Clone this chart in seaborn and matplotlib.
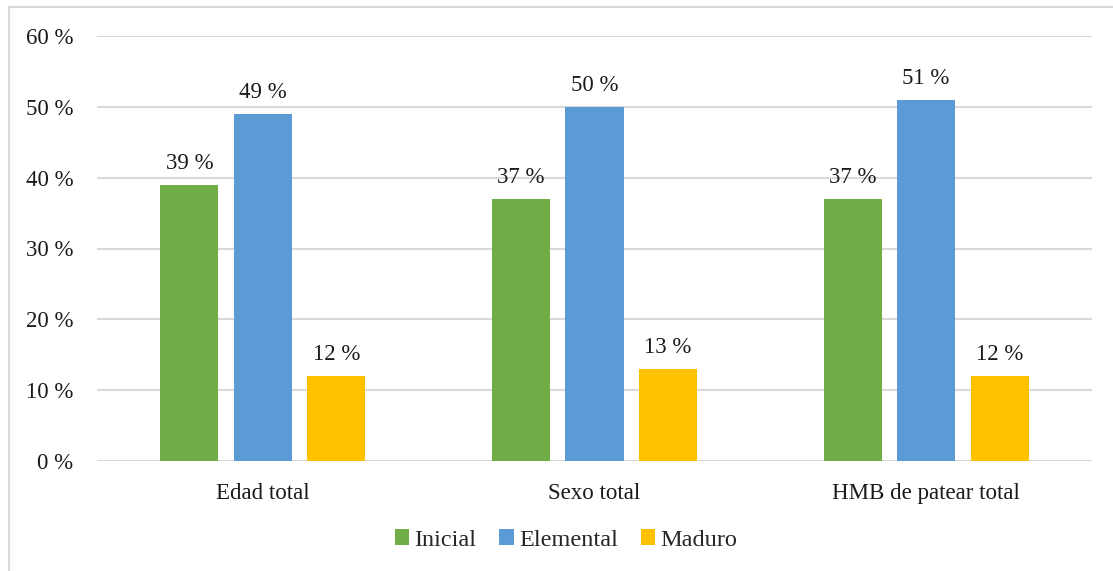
import matplotlib
matplotlib.use("Agg")
import matplotlib.pyplot as plt
from matplotlib.patches import Patch
from matplotlib.lines import Line2D
import pandas as pd
import seaborn as sns

categories = ["Edad total", "Sexo total", "HMB de patear total"]
levels = ["Inicial", "Elemental", "Maduro"]
inicial = [39, 37, 37]
elemental = [49, 50, 51]
maduro = [12, 13, 12]
y_ticks = [0, 10, 20, 30, 40, 50, 60]
colors = ["#70AD47", "#5B9BD5", "#FFC000"]

rows = []
for cat, a, b, c in zip(categories, inicial, elemental, maduro):
    rows += [(cat, levels[0], a), (cat, levels[1], b), (cat, levels[2], c)]
df = pd.DataFrame(rows, columns=["categoria", "nivel", "valor"])

sns.set_theme(style="white")
plt.rcParams["font.family"] = ["Liberation Serif", "DejaVu Serif"]

fig = plt.figure(figsize=(11.13, 5.71), dpi=100)
ax = fig.add_axes([97 / 1113, 1 - 461 / 571, (1092 - 97) / 1113, (461 - 36) / 571])

sns.barplot(data=df, x="categoria", y="valor", hue="nivel", order=categories,
            hue_order=levels, palette=colors, width=0.665, gap=0.21,
            saturation=1, linewidth=0, ax=ax, legend=False)

for cont in ax.containers:
    ax.bar_label(cont, fmt="%d %%", padding=8, fontsize=16.5, color="#1a1a1a")

ax.set_ylim(0, 60)
ax.set_yticks(y_ticks)
ax.set_yticklabels([f"{t} %" for t in y_ticks], fontsize=16.5, color="#1a1a1a")
ax.tick_params(axis="y", length=0, pad=17)
ax.tick_params(axis="x", length=0, pad=16, labelsize=16.5, labelcolor="#1a1a1a")
ax.set_xlabel("")
ax.set_ylabel("")
ax.grid(axis="y", color="#D9D9D9", linewidth=1.5)
ax.set_axisbelow(True)
for s in ax.spines.values():
    s.set_visible(False)

handles = [Patch(facecolor=c, edgecolor="none") for c in colors]
fig.legend(handles, levels, loc="center", bbox_to_anchor=(566 / 1113, 1 - 540 / 571),
           ncol=3, frameon=False, fontsize=17.5, handlelength=0.6, handleheight=0.6,
           handletextpad=0.2, columnspacing=0.95)

# light frame along the top and left edges
fig.add_artist(Line2D([8.5 / 1113, 1.0], [1 - 6.5 / 571] * 2, transform=fig.transFigure,
                      color="#D9D9D9", linewidth=1.5))
fig.add_artist(Line2D([8.5 / 1113] * 2, [0.0, 1 - 6.5 / 571], transform=fig.transFigure,
                      color="#D9D9D9", linewidth=1.5))

fig.savefig("out.png", dpi=100)
